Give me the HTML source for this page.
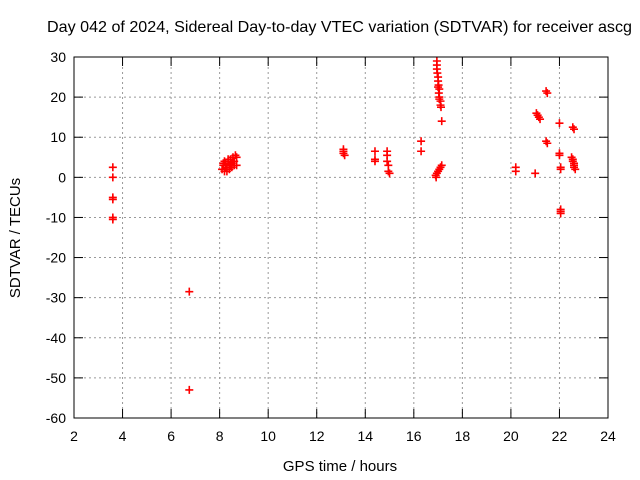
<!DOCTYPE html>
<html><head><meta charset="utf-8"><style>
body{margin:0;background:#fff}
svg{display:block;font-family:"Liberation Sans",sans-serif}
</style></head><body>
<svg id="chart" width="640" height="480">
<text x="47" y="32" font-size="16" textLength="585" lengthAdjust="spacingAndGlyphs">Day 042 of 2024, Sidereal Day-to-day VTEC variation (SDTVAR) for receiver ascg</text>
<text x="340" y="471" text-anchor="middle" font-size="15">GPS time / hours</text>
<text transform="translate(20,238) rotate(-90)" text-anchor="middle" font-size="15">SDTVAR / TECUs</text>
<g id="grid"></g><g id="ticks"></g><g id="pts"></g>
<rect x="74" y="57" width="534" height="361" fill="none" stroke="#000" stroke-width="1"/>
</svg>
<script>
const xTicks=[2,4,6,8,10,12,14,16,18,20,22,24];
const yTicks=[30,20,10,0,-10,-20,-30,-40,-50,-60];
const xs=[3.6,3.6,3.6,3.6,3.6,3.6,
6.75,6.75,
8.1,8.15,8.2,8.25,8.3,8.35,8.4,8.45,8.5,8.55,8.6,8.65,8.7,8.2,8.3,8.4,8.5,8.6,8.15,8.25,8.35,8.45,8.55,8.7,
13.1,13.1,13.1,13.15,
14.4,14.4,14.4,
14.9,14.9,14.9,14.95,14.95,15.0,
16.3,16.3,
16.95,16.95,16.95,16.97,17,17,17.02,17,17.05,17.03,17.05,17.05,17.1,17.1,17.12,17.15,
16.9,16.95,17,17.05,17.1,17.15,16.92,
20.2,20.2,21.0,
21.05,21.1,21.15,21.2,
21.45,21.5,21.45,21.5,
22.0,22.0,22.0,22.05,22.05,22.05,22.05,22.05,
22.55,22.6,22.5,22.55,22.55,22.6,22.6,22.6,22.65];
const ys=[2.5,0,-5,-5.5,-10,-10.5,
-28.5,-53,
2,3,1.5,3.5,2.5,4,3,4.5,3.5,5,4,5.5,3,4,1.5,2,2.5,3,3.5,2.5,4.5,3,4,5,
6,6.5,7,5.5,
6.5,4.5,4,
6.5,5.5,4,3,1.5,1,
9,6.5,
29,28,27,26,25,24,23,22.5,22,21,20,19.5,19,18,17.5,14,
0.5,1,1.5,2,2.5,3,0,
2.5,1.5,1,
16,15.5,15,14.5,
21.5,21,9,8.5,
13.5,6,5.5,2.5,2,-8,-8.5,-9,
12.5,12,5,4.5,4,3.5,3,2.5,2];
const X=h=>74+(h-2)*534/22, Y=v=>57+(30-v)*361/90;
const NS="http://www.w3.org/2000/svg";
const g=document.getElementById('grid'),t=document.getElementById('ticks'),p=document.getElementById('pts');
function mk(tag,a,par){const e=document.createElementNS(NS,tag);for(const k in a)e.setAttribute(k,a[k]);par.appendChild(e);return e;}
xTicks.forEach(v=>{const x=X(v);
 if(v>2&&v<24){const l=mk('line',{x1:x,y1:57,x2:x,y2:418,stroke:'#999','stroke-dasharray':'2,3'},g);
 
 }
 mk('line',{x1:x,y1:418,x2:x,y2:409,stroke:'#000'},t);mk('line',{x1:x,y1:57,x2:x,y2:66,stroke:'#000'},t);
 const tx=mk('text',{x:x,y:441,'text-anchor':'middle','font-size':14},t);tx.textContent=v;
 
 });
yTicks.forEach(v=>{const y=Y(v);
 if(v<30&&v>-60){const l=mk('line',{x1:74,y1:y,x2:608,y2:y,stroke:'#999','stroke-dasharray':'2,3'},g);
 
 }
 mk('line',{x1:74,y1:y,x2:83,y2:y,stroke:'#000'},t);mk('line',{x1:599,y1:y,x2:608,y2:y,stroke:'#000'},t);
 const tx=mk('text',{x:66,y:y+5,'text-anchor':'end','font-size':14},t);tx.textContent=v;
 
 });
xs.forEach((h,i)=>{const x=X(h),y=Y(ys[i]);
 const e=mk('path',{d:`M${x-4} ${y}H${x+4}M${x} ${y-4}V${y+4}`,stroke:'#f00','stroke-width':1.6},p);
 
 });
</script>
</body></html>
